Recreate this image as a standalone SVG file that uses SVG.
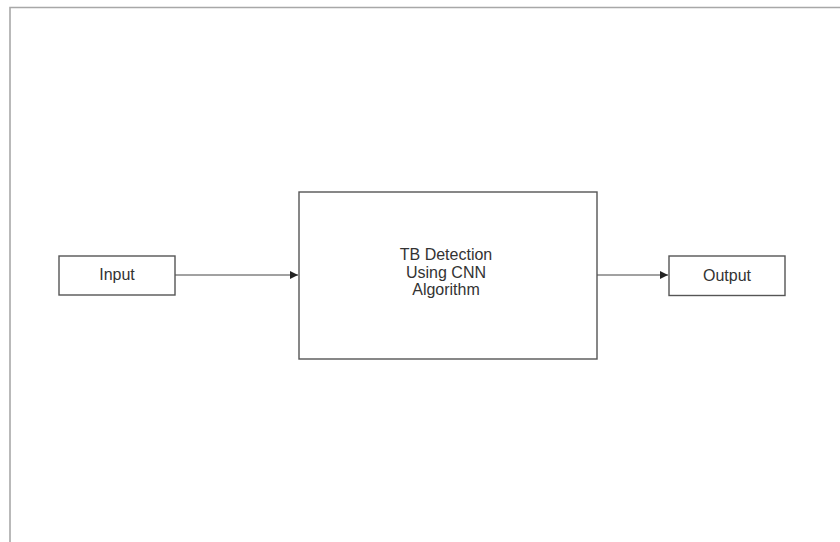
<svg xmlns="http://www.w3.org/2000/svg" width="840" height="542" viewBox="0 0 840 542">
<defs>
<style>
.box{fill:#fff;stroke:#555;stroke-width:1.4}
.lbl{font-family:"Liberation Sans",Arial,sans-serif;font-size:16px;fill:#333;text-anchor:middle}
.edge{stroke:#444;stroke-width:1;fill:none}
.frame{stroke:#a8a8a8;stroke-width:1.6;fill:none}
</style>
<marker id="arr" viewBox="0 0 10 10" refX="10" refY="5" markerWidth="9" markerHeight="8" markerUnits="userSpaceOnUse" orient="auto">
<path d="M0,0 L10,5 L0,10 z" fill="#222"/>
</marker>
</defs>
<rect width="840" height="542" fill="#fff"/>
<path class="frame" d="M10,542 V7.5 H840"/>
<g id="connectors">
<line class="edge" x1="175" y1="275" x2="298" y2="275" marker-end="url(#arr)"/>
<line class="edge" x1="597" y1="275" x2="668" y2="275" marker-end="url(#arr)"/>
</g>
<g id="input">
<rect class="box" x="59" y="256" width="116" height="39"/>
<text class="lbl" x="117" y="279.5">Input</text>
</g>
<g id="tb-detection">
<rect class="box" x="299" y="192" width="298" height="167"/>
<text class="lbl" x="446" y="260">TB Detection</text>
<text class="lbl" x="446" y="277.5">Using CNN</text>
<text class="lbl" x="446" y="295">Algorithm</text>
</g>
<g id="output">
<rect class="box" x="669" y="256" width="116" height="39.5"/>
<text class="lbl" x="727" y="281">Output</text>
</g>
</svg>
